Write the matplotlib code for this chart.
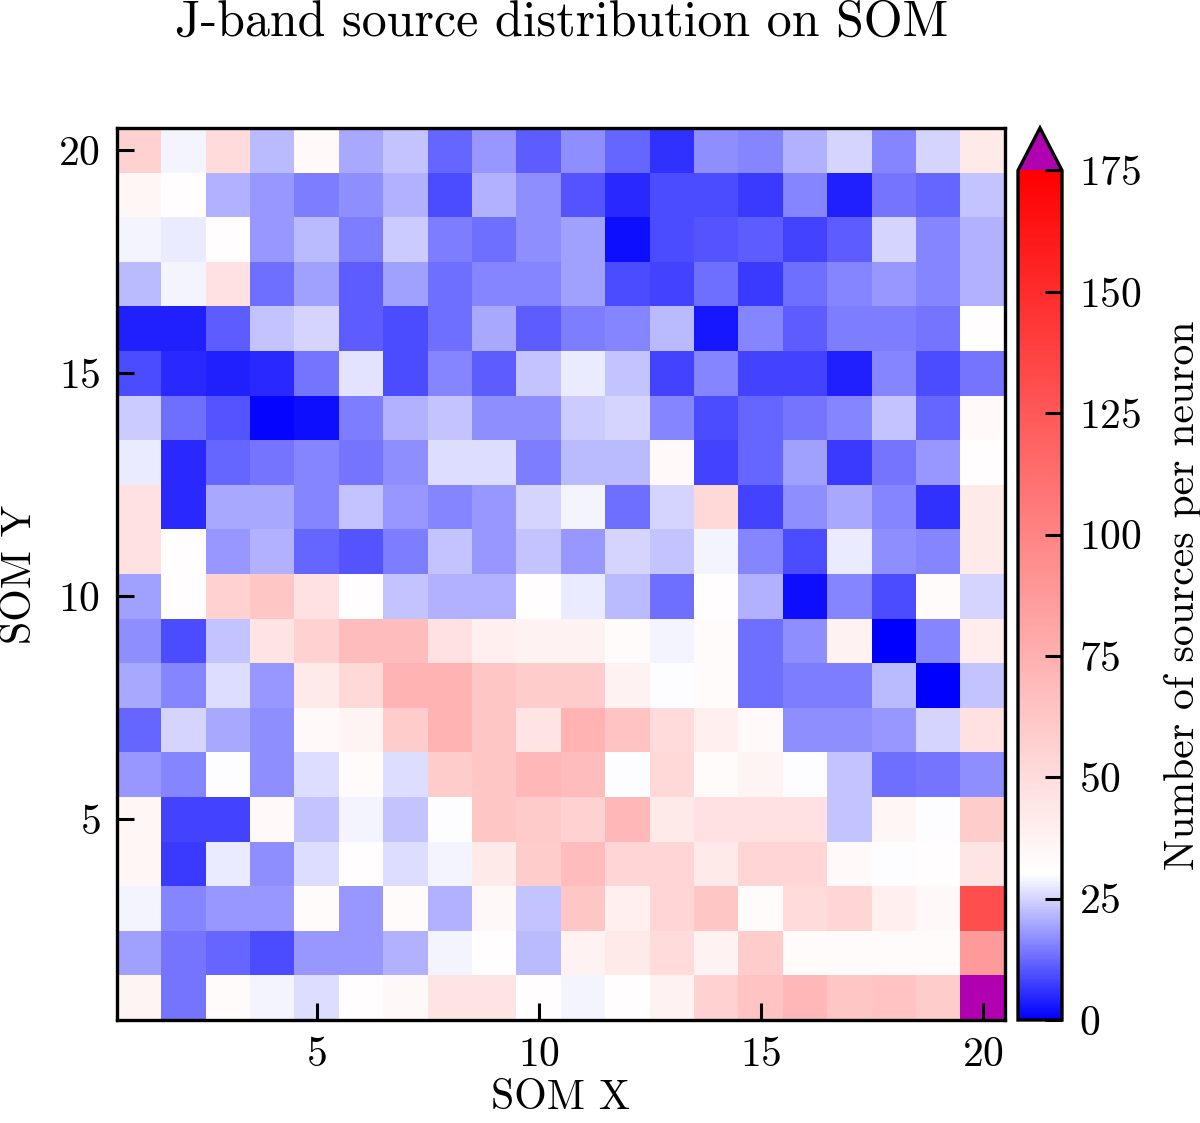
import numpy as np
import matplotlib
matplotlib.use("Agg")
import matplotlib.pyplot as plt
from matplotlib.colors import LinearSegmentedColormap

plt.rcParams['font.family'] = 'serif'
plt.rcParams['font.serif'] = ['cmr10', 'DejaVu Serif']
plt.rcParams['mathtext.fontset'] = 'cm'
plt.rcParams['axes.formatter.use_mathtext'] = True

# Counts per neuron, rows listed from SOM Y = 20 (top) down to SOM Y = 1 (bottom), columns SOM X = 1..20
row20 = [56, 29, 50, 22, 33, 20, 23, 12, 18, 11, 17, 12, 6, 17, 16, 21, 25, 16, 25, 42]
row19 = [35, 31, 21, 18, 15, 17, 21, 9, 21, 17, 10, 5, 9, 9, 7, 16, 4, 14, 12, 23]
row18 = [29, 28, 31, 18, 22, 15, 24, 15, 13, 17, 19, 2, 9, 10, 11, 8, 11, 25, 16, 21]
row17 = [22, 29, 47, 13, 19, 11, 19, 13, 16, 16, 19, 9, 8, 13, 7, 13, 16, 18, 16, 21]
row16 = [4, 4, 11, 23, 25, 11, 9, 13, 20, 11, 15, 16, 22, 3, 16, 11, 15, 15, 14, 31]
row15 = [9, 5, 4, 5, 14, 27, 9, 16, 11, 23, 28, 23, 8, 16, 8, 8, 4, 16, 9, 14]
row14 = [24, 13, 10, 1, 2, 15, 21, 23, 17, 17, 24, 25, 16, 9, 12, 14, 16, 23, 12, 33]
row13 = [28, 5, 12, 14, 16, 14, 17, 26, 26, 15, 22, 22, 33, 8, 12, 19, 7, 14, 18, 31]
row12 = [47, 5, 20, 20, 16, 23, 18, 16, 18, 25, 29, 13, 25, 52, 8, 17, 20, 16, 6, 42]
row11 = [47, 31, 18, 21, 12, 10, 15, 23, 18, 23, 18, 25, 23, 29, 16, 9, 28, 17, 16, 42]
row10 = [19, 31, 56, 62, 47, 31, 23, 21, 21, 31, 28, 22, 13, 31, 21, 2, 16, 9, 32, 25]
row9 = [17, 9, 23, 45, 56, 68, 68, 47, 39, 37, 37, 32, 29, 32, 13, 17, 37, 0, 16, 40]
row8 = [20, 16, 26, 18, 42, 52, 73, 73, 62, 59, 59, 37, 30, 32, 13, 15, 15, 22, 0, 23]
row7 = [12, 25, 20, 17, 33, 36, 59, 73, 62, 45, 73, 64, 50, 39, 33, 17, 17, 18, 25, 47]
row6 = [18, 16, 30, 17, 26, 32, 26, 59, 62, 71, 68, 30, 52, 32, 36, 30, 23, 13, 14, 17]
row5 = [35, 8, 8, 33, 23, 29, 23, 30, 62, 60, 56, 71, 42, 47, 47, 47, 23, 35, 30, 59]
row4 = [35, 7, 28, 17, 26, 31, 26, 29, 42, 59, 68, 54, 54, 42, 54, 54, 33, 30, 31, 45]
row3 = [29, 16, 18, 18, 32, 18, 32, 21, 34, 23, 62, 39, 54, 62, 32, 50, 54, 39, 34, 130]
row2 = [19, 14, 12, 9, 18, 18, 21, 29, 31, 22, 37, 42, 50, 37, 59, 32, 32, 32, 32, 87]
row1 = [36, 14, 32, 29, 26, 31, 34, 45, 45, 31, 29, 31, 37, 56, 64, 71, 62, 64, 59, 200]

rows_top_to_bottom = [row20, row19, row18, row17, row16, row15, row14, row13, row12, row11,
                      row10, row9, row8, row7, row6, row5, row4, row3, row2, row1]
grid = np.array(rows_top_to_bottom[::-1], dtype=float)  # index 0 = SOM Y 1

x_ticks = [5, 10, 15, 20]
y_ticks = [5, 10, 15, 20]
cbar_ticks = [0, 25, 50, 75, 100, 125, 150, 175]

vmin, vcenter, vmax = 0, 30, 175
cmap = LinearSegmentedColormap.from_list(
    'bwr_shift', [(0.0, (0, 0, 1)), (vcenter / vmax, (1, 1, 1)), (1.0, (1, 0, 0))], N=512)
cmap.set_over('#b000b0')

W, H = 1200, 1123
dpi = 200
fs = 15
fig = plt.figure(figsize=(W / dpi, H / dpi), dpi=dpi)

ax = fig.add_axes([117 / W, 1 - 1020 / H, (1005 - 117) / W, (1020 - 128) / H])
im = ax.imshow(grid, origin='lower', cmap=cmap, vmin=vmin, vmax=vmax,
               extent=(0.5, 20.5, 0.5, 20.5), aspect='auto', interpolation='nearest')
ax.set_xticks(x_ticks)
ax.set_yticks(y_ticks)
ax.tick_params(direction='in', length=6, width=1.1, labelsize=fs, pad=6)
ax.set_xlabel('SOM X', fontsize=fs, labelpad=2)
ax.set_ylabel('SOM Y', fontsize=fs, labelpad=7)
for s in ax.spines.values():
    s.set_linewidth(1.2)

cax = fig.add_axes([1018 / W, 1 - 1020 / H, (1062 - 1018) / W, (1020 - 128) / H])
cb = fig.colorbar(im, cax=cax, extend='max', ticks=cbar_ticks)
cb.outline.set_linewidth(1.2)
cb.ax.tick_params(direction='in', length=6, width=1.1, labelsize=fs, pad=6)
cb.set_label('Number of sources per neuron', fontsize=fs, labelpad=8)

fig.text(0.468, 1 - 23 / H, 'J-band source distribution on SOM', ha='center', va='center', fontsize=18)

fig.savefig('out.png', dpi=dpi)
